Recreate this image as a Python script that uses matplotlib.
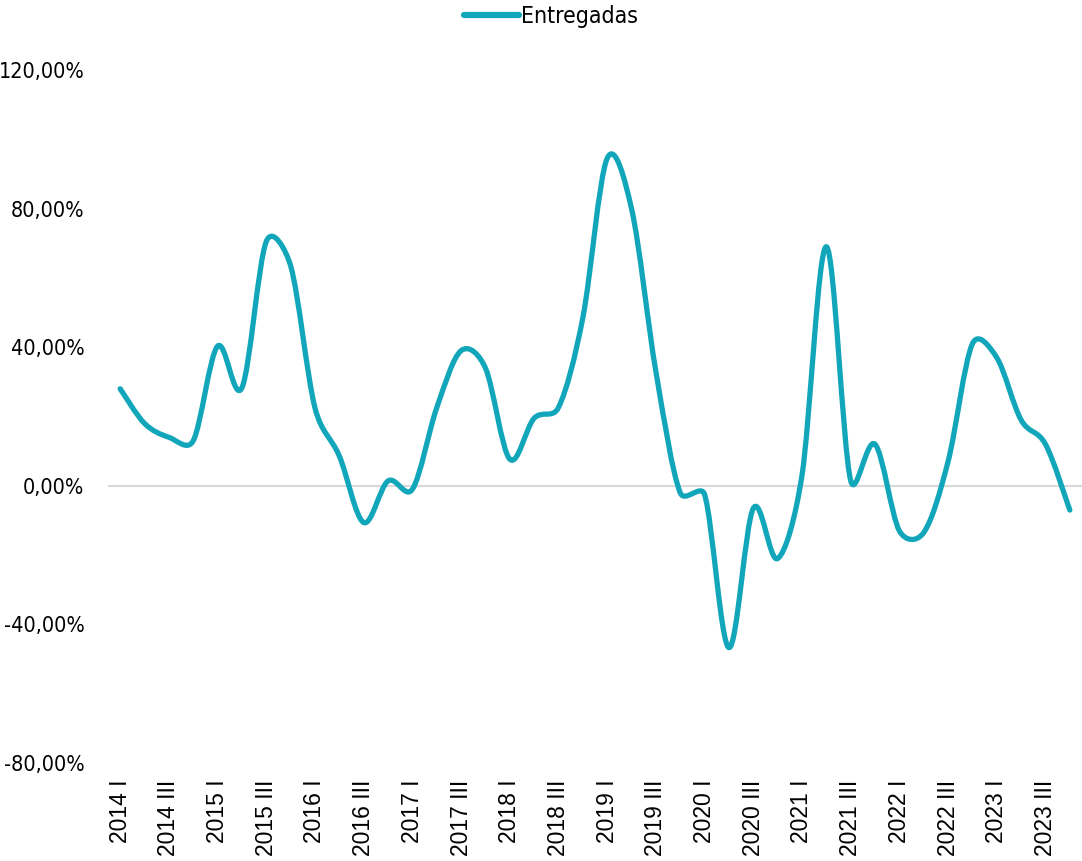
import matplotlib
matplotlib.use('Agg')
from matplotlib import pyplot as plt
from matplotlib.path import Path
from matplotlib.patches import PathPatch
from matplotlib.lines import Line2D
from matplotlib.font_manager import FontProperties
import numpy as np

### Data
years = list(range(2014, 2024))
quarters = ['I', 'II', 'III', 'IV']
periods = [f'{y} {q}' for y in years for q in quarters]

entregadas = [28, 18, 14, 13, 40.3, 28.3, 70.5, 63.5, 22.5, 8.6,
              -10.6, 1.4, -1, 22.5, 39, 34, 7.7, 19.5, 22.6, 48.5,
              94.5, 80, 33, -2, -2.5, -46.7, -6.5, -21, 3, 69,
              1.5, 12, -13, -13.5, 7, 41, 37, 19, 12, -7]

yticks = [-80, -40, 0, 40, 80, 120]
ytick_labels = ['-80,00%', '-40,00%', '0,00%', '40,00%', '80,00%', '120,00%']

line_clr = '#12a6ba'

# Narrow font for the y labels and legend
narrow = FontProperties(family='DejaVu Sans', stretch='condensed', size=15.5)
legend_font = FontProperties(family='DejaVu Sans', stretch='condensed', size=16.5)

### Figure
fig = plt.figure(figsize=(10.82, 8.61), dpi=100)
ax = fig.add_axes([108/1082, 1 - 763/861, 974/1082, 693/861])

# Axis limits
ax.set_xlim(-0.5, len(entregadas) - 0.5)
ax.set_ylim(-80, 120)

# Zero line
ax.axhline(0, color='#d9d9d9', linewidth=1.5, zorder=1)

# Smoothed line: Catmull-Rom Bezier segments, control arms capped at half
# the segment length (in screen pixels) so short steps stay flat
xs = np.arange(len(entregadas), dtype=float)
ys = np.array(entregadas, dtype=float)
pts = ax.transData.transform(np.column_stack([xs, ys]))
pad = np.vstack([pts[:1], pts, pts[-1:]])


def arm(vec, seg):
    n = np.hypot(*vec)
    lim = 0.5 * seg
    return vec * (lim / n) if n > lim else vec


verts = [tuple(pts[0])]
codes = [Path.MOVETO]
for i in range(1, len(pad) - 2):
    p0, p1, p2, p3 = pad[i-1], pad[i], pad[i+1], pad[i+2]
    d12 = np.hypot(*(p2 - p1))
    c1 = p1 + arm((p2 - p0) / 6, d12)
    c2 = p2 - arm((p3 - p1) / 6, d12)
    verts += [tuple(c1), tuple(c2), tuple(p2)]
    codes += [Path.CURVE4] * 3
verts = ax.transData.inverted().transform(np.array(verts))
patch = PathPatch(Path(verts, codes), facecolor='none', edgecolor=line_clr,
                  linewidth=3.8, capstyle='round', joinstyle='round', zorder=5)
ax.add_patch(patch)

# Ticks
ax.set_yticks(yticks)
ax.set_yticklabels(ytick_labels, fontproperties=narrow)
ax.set_xticks(xs[::2])
ax.set_xticklabels(periods[::2], rotation=90, fontsize=16.5, family='Liberation Sans')
ax.tick_params(axis='y', length=0, pad=17)
ax.tick_params(axis='x', length=0, pad=12)

for s in ax.spines.values():
    s.set_visible(False)

# Legend
handle = Line2D([], [], color=line_clr, linewidth=4.5, solid_capstyle='round')
fig.legend([handle], ['Entregadas'], loc='center', bbox_to_anchor=(551/1082, 1 - 17/861),
           frameon=False, handlelength=2.4, handletextpad=0.05, prop=legend_font)

plt.savefig('out.png', dpi=100)
